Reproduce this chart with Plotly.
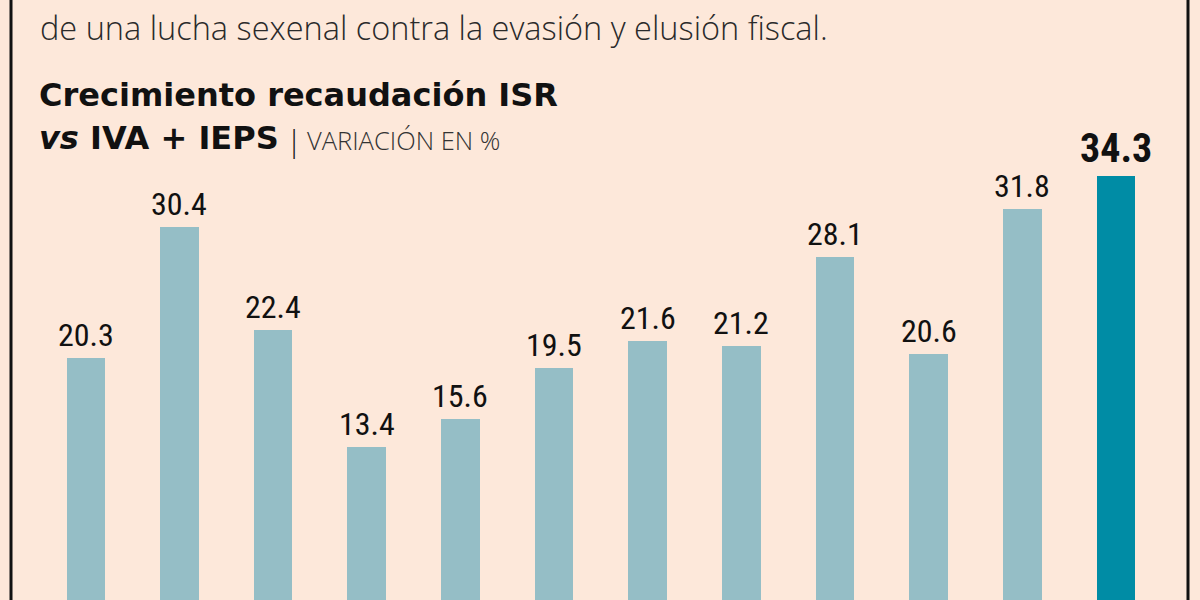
import plotly.graph_objects as go

categories = ["1", "2", "3", "4", "5", "6", "7", "8", "9", "10", "11", "12"]
values = [20.3, 30.4, 22.4, 13.4, 15.6, 19.5, 21.6, 21.2, 28.1, 20.6, 31.8, 34.3]
highlight_index = 11

BG = "#fde8da"
LIGHT = "#95bec6"
DARK = "#008ca5"

W, H = 1200, 600
x_idx = list(range(len(values)))
colors = [DARK if i == highlight_index else LIGHT for i in x_idx]

x0_px, step_px = 85.7, 93.66
x_range = [(0 - x0_px) / step_px, (W - x0_px) / step_px]
zero_px, unit_px = 621.0, 12.97
y_range = [(zero_px - H) / unit_px, zero_px / unit_px]

fig = go.Figure()
fig.add_trace(go.Bar(
    x=x_idx, y=values, marker=dict(color=colors, line=dict(width=0)),
    width=0.41, hoverinfo="skip", showlegend=False,
))

num_font = "Roboto Condensed, Noto Sans Condensed, Liberation Sans Narrow, DejaVu Sans Condensed, sans-serif"
annotations = []
for i, v in zip(x_idx, values):
    if i == highlight_index:
        annotations.append(dict(x=i, y=v, xref="x", yref="y", text=f"<b>{v:.1f}</b>",
                                showarrow=False, yanchor="bottom", yshift=2,
                                font=dict(family=num_font, size=40, color="#111111")))
    else:
        annotations.append(dict(x=i, y=v, xref="x", yref="y", text=f"{v:.1f}",
                                showarrow=False, yanchor="bottom", yshift=2,
                                font=dict(family=num_font, size=32, color="#111111")))

def px(x):
    return x / W

def py(y):
    return 1 - y / H

annotations.append(dict(
    x=px(38), y=py(28), xref="paper", yref="paper", xanchor="left", yanchor="middle",
    text="de una lucha sexenal contra la evasión y elusión fiscal.", showarrow=False,
    font=dict(family="Open Sans, Lato, sans-serif", size=32.5, color="#2a2a2a", weight=300)))
annotations.append(dict(
    x=px(37), y=py(95), xref="paper", yref="paper", xanchor="left", yanchor="middle",
    text="<b>Crecimiento recaudación ISR</b>", showarrow=False,
    font=dict(family="DejaVu Sans, sans-serif", size=32, color="#111111")))
annotations.append(dict(
    x=px(37), y=py(138), xref="paper", yref="paper", xanchor="left", yanchor="middle",
    text="<b><i>vs</i> IVA + IEPS</b>", showarrow=False,
    font=dict(family="DejaVu Sans, sans-serif", size=32, color="#111111")))
annotations.append(dict(
    x=px(284), y=py(140), xref="paper", yref="paper", xanchor="left", yanchor="middle",
    text="|", showarrow=False,
    font=dict(family="Open Sans, Lato, sans-serif", size=30, color="#111111", weight=300)))
annotations.append(dict(
    x=px(305), y=py(140), xref="paper", yref="paper", xanchor="left", yanchor="middle",
    text="VARIACIÓN EN %", showarrow=False,
    font=dict(family="Open Sans, Lato, sans-serif", size=25.5, color="#333333", weight=300)))

shapes = [
    dict(type="rect", xref="paper", yref="paper", x0=px(9.5), x1=px(12.5), y0=0, y1=1,
         fillcolor="#111111", line=dict(width=0), layer="above"),
    dict(type="rect", xref="paper", yref="paper", x0=px(1186.5), x1=px(1189.5), y0=0, y1=1,
         fillcolor="#111111", line=dict(width=0), layer="above"),
]

# Start slightly smaller so the default 8px body margin never causes scrollbars,
# then remove the margin and size the figure to the full 1200x600 window.
fig.update_layout(
    width=W - 16, height=H - 16, margin=dict(l=0, r=0, t=0, b=0, pad=0),
    paper_bgcolor=BG, plot_bgcolor=BG,
    xaxis=dict(range=x_range, visible=False, fixedrange=True),
    yaxis=dict(range=y_range, visible=False, fixedrange=True),
    annotations=annotations, shapes=shapes, bargap=0,
)

post = (
    "document.documentElement.style.margin='0';"
    "document.body.style.margin='0';"
    "document.body.style.overflow='hidden';"
    "var gd=document.getElementById('{plot_id}');"
    "Plotly.relayout(gd,{width:%d,height:%d});" % (W, H)
)

fig.write_html("out.html", config={"displayModeBar": False, "responsive": False},
               post_script=post)
